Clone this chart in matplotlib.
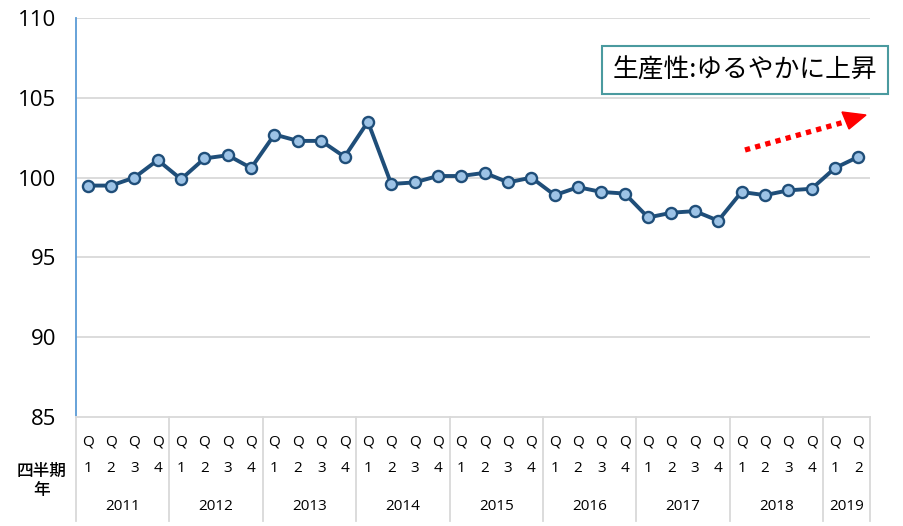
import matplotlib
matplotlib.use("Agg")
import matplotlib.pyplot as plt
from matplotlib.lines import Line2D
from matplotlib.patches import Polygon

plt.rcParams['font.family'] = ['Open Sans', 'Noto Sans CJK JP', 'DejaVu Sans']

years = ['2011', '2012', '2013', '2014', '2015', '2016', '2017', '2018', '2019']
quarters_per_year = [4, 4, 4, 4, 4, 4, 4, 4, 2]
values = [99.5, 99.5, 100.0, 101.1,
          99.9, 101.2, 101.4, 100.6,
          102.7, 102.3, 102.3, 101.3,
          103.5, 99.6, 99.7, 100.1,
          100.1, 100.3, 99.7, 100.0,
          98.9, 99.4, 99.1, 99.0,
          97.5, 97.8, 97.9, 97.3,
          99.1, 98.9, 99.2, 99.3,
          100.6, 101.3]
yticks = [85, 90, 95, 100, 105, 110]
axis_title_top = '四半期'
axis_title_bottom = '年'
note = '生産性:ゆるやかに上昇'

W, H = 904, 526
fig = plt.figure(figsize=(W/100, H/100), dpi=100)
L, R, T, B = 76, 870, 18, 417
ax = fig.add_axes([L/W, 1-B/H, (R-L)/W, (B-T)/H])

n = len(values)
x = list(range(n))
ax.plot(x, values, color='#1F4E79', lw=2.8, marker='o', ms=8,
        mfc='#9DC3E6', mec='#1F4E79', mew=1.7, zorder=3, clip_on=False)
ax.set_xlim(-0.5, n - 0.5)
ax.set_ylim(85, 110)
ax.set_yticks(yticks)
ax.set_yticklabels([str(v) for v in yticks], fontsize=16)
ax.tick_params(axis='y', length=0, pad=14)
ax.set_xticks([])
for v in yticks[1:]:
    ax.axhline(v, color='#D9D9D9', lw=1.3, zorder=0)
for s in ['top', 'right']:
    ax.spines[s].set_visible(False)
ax.spines['left'].set_color('#5B9BD5')
ax.spines['left'].set_linewidth(1.3)
ax.spines['bottom'].set_color('#D9D9D9')
ax.spines['bottom'].set_linewidth(1.3)

trans = ax.get_xaxis_transform()
def fy(py):
    return 1 - py / H

idx = 0
bounds = [-0.5]
for yr, nq in zip(years, quarters_per_year):
    for q in range(nq):
        xi = idx + q
        ax.annotate('Q', xy=(xi, 0), xycoords=trans, xytext=(0, -(442 - B)),
                    textcoords='offset pixels', ha='center', va='center', fontsize=11)
        ax.annotate(str(q + 1), xy=(xi, 0), xycoords=trans, xytext=(0, -(468 - B)),
                    textcoords='offset pixels', ha='center', va='center', fontsize=11)
    ax.annotate(yr, xy=(idx + (nq - 1) / 2, 0), xycoords=trans, xytext=(0, -(507 - B)),
                textcoords='offset pixels', ha='center', va='center', fontsize=11)
    idx += nq
    bounds.append(idx - 0.5)

for bx in bounds:
    xf = (L + (bx + 0.5) / n * (R - L)) / W
    fig.add_artist(Line2D([xf, xf], [fy(B), fy(521)], color='#D9D9D9', lw=1.3))

cjk = ['Noto Sans CJK JP', 'DejaVu Sans']
fig.text(42/W, fy(471), axis_title_top, ha='center', va='center', fontsize=12,
         family=cjk, fontweight='medium')
fig.text(42/W, fy(490), axis_title_bottom, ha='center', va='center', fontsize=12,
         family=cjk, fontweight='medium')

# note box
fig.text(745/W, fy(70), note, ha='center', va='center', fontsize=18.5,
         family=cjk,
         bbox=dict(boxstyle='square,pad=0.42', fc='white', ec='#4A9A9F', lw=1.5))

# red dotted arrow
x0, y0, x1, y1 = 745, 150, 848, 121
fig.add_artist(Line2D([x0/W, x1/W], [fy(y0), fy(y1)], color='#FF0000', lw=3.8,
                      linestyle=(0, (1.0, 1.0))))
head = [(842/W, fy(112)), (866/W, fy(115)), (849/W, fy(129))]
fig.add_artist(Polygon(head, closed=True, color='#FF0000', transform=fig.transFigure))

fig.savefig('out.png', dpi=100)
